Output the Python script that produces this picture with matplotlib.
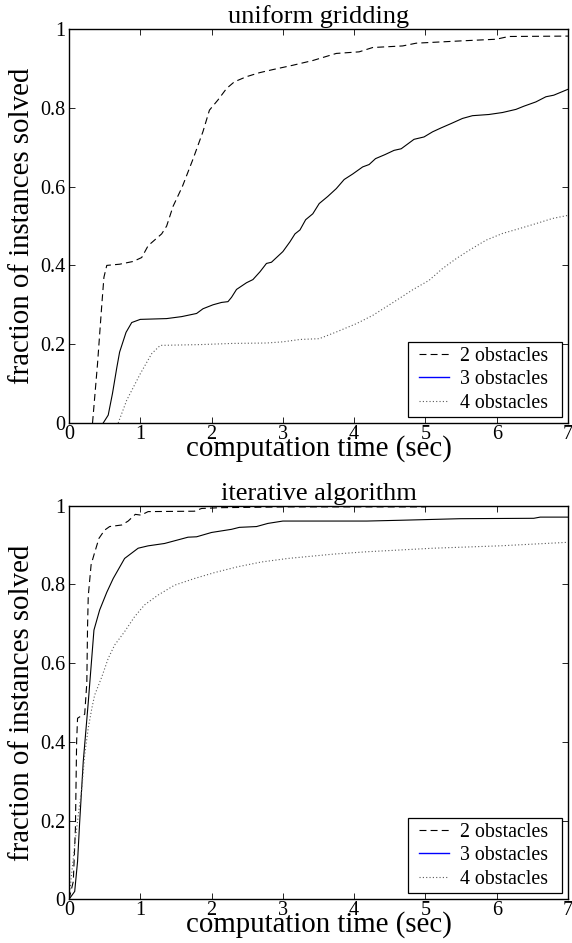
import matplotlib
matplotlib.use("Agg")
import matplotlib.pyplot as plt
from matplotlib.lines import Line2D
from matplotlib.legend_handler import HandlerLine2D

plt.rcParams['font.family'] = ['Liberation Serif', 'DejaVu Serif']
plt.rcParams['lines.scale_dashes'] = False

# ---------------- data ----------------
titles = ["uniform gridding", "iterative algorithm"]
series_labels = ["2 obstacles", "3 obstacles", "4 obstacles"]
xticks = [0, 1, 2, 3, 4, 5, 6, 7]
xtick_labels = ["0", "1", "2", "3", "4", "5", "6", "7"]
yticks = [0, 0.2, 0.4, 0.6, 0.8, 1.0]
ytick_labels = ["0", "0.2", "0.4", "0.6", "0.8", "1"]
xlabel = "computation time (sec)"
ylabel = "fraction of instances solved"

# uniform gridding
ug2_x = [0.33, 0.40, 0.46, 0.49, 0.53, 0.71, 0.90, 1.02, 1.11, 1.30, 1.37, 1.46, 1.59, 1.74, 1.88,
         1.97, 2.09, 2.21, 2.32, 2.49, 2.67, 2.86, 3.14, 3.42, 3.75, 4.07, 4.26, 4.68, 4.87, 5.52,
         5.99, 6.17, 7.0]
ug2_y = [0.0, 0.15, 0.30, 0.37, 0.40, 0.403, 0.41, 0.42, 0.45, 0.48, 0.50, 0.55, 0.60, 0.67, 0.74,
         0.794, 0.82, 0.849, 0.866, 0.879, 0.889, 0.897, 0.908, 0.92, 0.938, 0.942, 0.953, 0.957,
         0.964, 0.970, 0.974, 0.981, 0.982]
ug3_x = [0.48, 0.55, 0.61, 0.67, 0.71, 0.80, 0.88, 1.0, 1.37, 1.58, 1.79, 1.88, 2.02, 2.14, 2.23,
         2.28, 2.35, 2.49, 2.58, 2.68, 2.77, 2.84, 3.0, 3.10, 3.17, 3.24, 3.32, 3.42, 3.51, 3.63,
         3.75, 3.86, 3.98, 4.12, 4.21, 4.30, 4.43, 4.56, 4.66, 4.84, 4.98, 5.10, 5.22, 5.36, 5.52,
         5.66, 5.89, 6.08, 6.27, 6.38, 6.55, 6.69, 6.80, 7.0]
ug3_y = [0.0, 0.02, 0.075, 0.14, 0.18, 0.23, 0.255, 0.263, 0.265, 0.27, 0.278, 0.29, 0.30, 0.306,
         0.308, 0.319, 0.339, 0.356, 0.364, 0.384, 0.405, 0.408, 0.435, 0.46, 0.48, 0.49, 0.516,
         0.531, 0.557, 0.575, 0.595, 0.618, 0.632, 0.65, 0.656, 0.671, 0.681, 0.692, 0.696, 0.72,
         0.726, 0.739, 0.749, 0.76, 0.773, 0.78, 0.783, 0.788, 0.796, 0.804, 0.815, 0.828, 0.832,
         0.847]
ug4_x = [0.69, 0.81, 1.0, 1.16, 1.28, 1.84, 2.30, 2.77, 3.0, 3.24, 3.51, 3.75, 4.03, 4.26, 4.59,
         4.82, 5.05, 5.24, 5.43, 5.61, 5.85, 6.08, 6.31, 6.55, 6.78, 7.0]
ug4_y = [0.0, 0.058, 0.125, 0.176, 0.197, 0.199, 0.202, 0.203, 0.206, 0.212, 0.214, 0.231, 0.252,
         0.273, 0.311, 0.338, 0.362, 0.392, 0.417, 0.438, 0.464, 0.481, 0.493, 0.506, 0.519, 0.527]

# iterative algorithm
it2_x = [0.0, 0.06, 0.09, 0.107, 0.12, 0.18, 0.22, 0.25, 0.26, 0.27, 0.31, 0.35, 0.42, 0.50, 0.57,
         0.74, 0.83, 0.93, 1.01, 1.11, 1.76, 1.86, 2.14, 3.07, 5.0, 5.05, 7.0]
it2_y = [0.0, 0.045, 0.18, 0.40, 0.46, 0.467, 0.47, 0.55, 0.69, 0.77, 0.85, 0.875, 0.917, 0.938,
         0.947, 0.951, 0.961, 0.978, 0.976, 0.985, 0.986, 0.993, 0.995, 0.997, 0.997, 1.0, 1.0]
it3_x = [0.0, 0.08, 0.12, 0.15, 0.20, 0.27, 0.35, 0.43, 0.53, 0.62, 0.78, 0.97, 1.11, 1.34, 1.67,
         1.79, 2.0, 2.28, 2.39, 2.63, 2.79, 3.0, 4.18, 4.65, 5.49, 6.52, 6.61, 7.0]
it3_y = [0.0, 0.02, 0.096, 0.197, 0.35, 0.50, 0.684, 0.735, 0.78, 0.815, 0.866, 0.892, 0.898,
         0.904, 0.92, 0.921, 0.932, 0.94, 0.945, 0.947, 0.955, 0.961, 0.961, 0.963, 0.967, 0.968,
         0.971, 0.971]
it4_x = [0.0, 0.04, 0.08, 0.13, 0.18, 0.22, 0.27, 0.32, 0.36, 0.46, 0.55, 0.64, 0.78, 0.92, 1.06,
         1.25, 1.48, 1.76, 2.04, 2.37, 2.70, 3.07, 3.71, 4.18, 5.11, 6.04, 7.0]
it4_y = [0.0, 0.07, 0.138, 0.214, 0.282, 0.367, 0.435, 0.485, 0.519, 0.565, 0.612, 0.646, 0.68,
         0.718, 0.748, 0.773, 0.798, 0.815, 0.83, 0.845, 0.857, 0.866, 0.877, 0.883, 0.892, 0.898,
         0.907]

panels = [
    [(ug2_x, ug2_y), (ug3_x, ug3_y), (ug4_x, ug4_y)],
    [(it2_x, it2_y), (it3_x, it3_y), (it4_x, it4_y)],
]

# ---------------- styling ----------------
W, H = 572, 943
fig = plt.figure(figsize=(W / 100, H / 100), dpi=100)

ax_rects = [
    (69 / W, 1 - 423 / H, 499 / W, 394 / H),
    (69 / W, 1 - 899.3 / H, 499 / W, 393.6 / H),
]

dash_style = dict(color='black', linestyle=(0, (5, 3)), lw=0.8)
solid_style = dict(color='black', linestyle='-', lw=0.8)
dot_style = dict(color='0.35', linestyle=(0, (0.8, 1.6)), lw=0.8)
styles = [dash_style, solid_style, dot_style]

legend_handles = [
    Line2D([], [], **dash_style),
    Line2D([], [], color='blue', linestyle='-', lw=1.0),
    Line2D([], [], **dot_style),
]

for i, rect in enumerate(ax_rects):
    ax = fig.add_axes(rect)
    for (xs, ys), st in zip(panels[i], styles):
        ax.plot(xs, ys, **st)
    ax.set_xlim(0, 7)
    ax.set_ylim(0, 1)
    ax.set_xticks(xticks)
    ax.set_xticklabels(xtick_labels)
    ax.set_yticks(yticks)
    ax.set_yticklabels(ytick_labels)
    ax.tick_params(direction='in', top=True, right=True, length=4, width=0.6,
                   labelsize=14.5, colors='black')
    ax.tick_params(axis='x', pad=1.5)
    ax.tick_params(axis='y', pad=2.5)
    for sp in ax.spines.values():
        sp.set_linewidth(1.0)
        sp.set_color('black')
    ax.set_title(titles[i], fontsize=19, pad=4)
    ax.set_xlabel(xlabel, fontsize=20.8)
    ax.xaxis.label.set_va('baseline')
    ax.xaxis.set_label_coords(0.5, -32.5 / 394)
    ax.set_ylabel(ylabel, fontsize=20.8)
    ax.yaxis.label.set_va('center')
    ax.yaxis.set_label_coords(-47 / 499, 0.5)
    leg = ax.legend(legend_handles, series_labels, loc='lower right',
                    fontsize=14.3, frameon=True, fancybox=False, framealpha=1,
                    edgecolor='black', borderpad=0.22, labelspacing=0.23,
                    handlelength=1.83, handletextpad=0.55, borderaxespad=0.3,
                    handler_map={Line2D: HandlerLine2D(xpad=0.32)})
    leg.get_frame().set_linewidth(0.9)
    for t in leg.get_texts():
        t.set_text(t.get_text() + "  ")

fig.savefig("out.png", dpi=100)
